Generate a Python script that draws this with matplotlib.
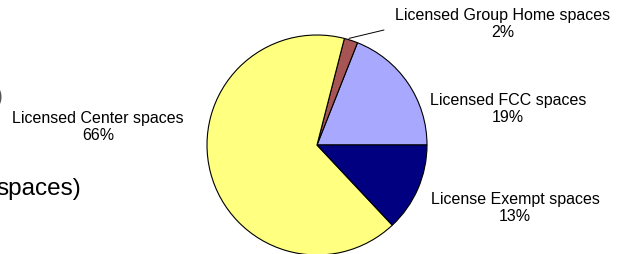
import matplotlib
matplotlib.use("Agg")
import matplotlib.pyplot as plt
import numpy as np

# Data (counter-clockwise from 3 o'clock)
categories = ["Licensed FCC spaces", "Licensed Group Home spaces",
              "Licensed Center spaces", "License Exempt spaces"]
shares = [19, 2, 66, 13]
colors = ["#A8A8FF", "#A65454", "#FFFF80", "#000080"]

plt.rcParams['font.family'] = ['Liberation Sans', 'DejaVu Sans']

W, H = 621, 254
fig = plt.figure(figsize=(W / 100, H / 100), dpi=100)
ax = fig.add_axes([0, 0, 1, 1])

cx, cy, R = 317, 145, 110
wedges, _ = ax.pie(shares, colors=colors, startangle=0, counterclock=False,
                   center=(cx, cy), radius=R,
                   wedgeprops=dict(edgecolor="black", linewidth=0.8))
ax.set_xlim(0, W)
ax.set_ylim(H, 0)
ax.set_aspect('equal')
ax.axis('off')

fs = 11.5
label_pos = {
    "Licensed FCC spaces": (508, 109),
    "Licensed Group Home spaces": (503, 24),
    "Licensed Center spaces": (98, 127),
    "License Exempt spaces": (515, 208),
}
for cat, val in zip(categories, shares):
    x, y = label_pos[cat]
    ax.text(x, y, f"{cat}\n{val}%", ha='center', va='center', fontsize=fs,
            color='black', linespacing=1.1)

# leader line for Group Home slice
w = wedges[1]
mid = np.deg2rad((w.theta1 + w.theta2) / 2)
sx = cx + R * np.cos(mid)
sy = cy + R * np.sin(mid)
ax.annotate("", xy=(sx - 2, sy - 2), xytext=(384, 30),
            arrowprops=dict(arrowstyle='-', color='black', lw=0.7,
                            shrinkA=0, shrinkB=0))

# cut-off fragments of neighbouring text on the left
ax.text(81, 189, "spaces)", ha='right', va='center', fontsize=17.5, color='black')
ax.text(3, 97, ")", ha='right', va='center', fontsize=17.5, color='#555555')

fig.savefig("out.png", dpi=100)
